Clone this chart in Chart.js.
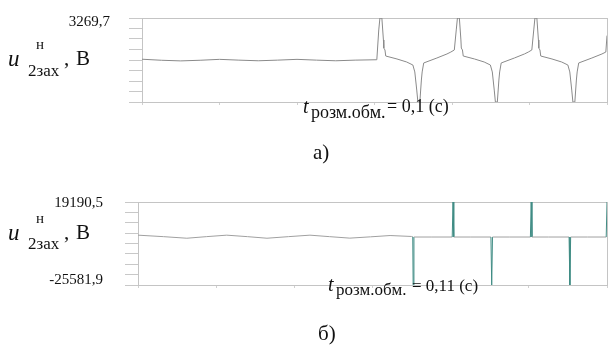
<!DOCTYPE html>
<html>
<head>
<meta charset="utf-8">
<script src="https://cdn.jsdelivr.net/npm/chart.js@4.4.0/dist/chart.umd.min.js"></script>
<style>
    body { margin: 0; background: #fff; }
    #wrap { position: relative; width: 612px; height: 353px; overflow: hidden; font-family: 'Liberation Serif', 'Times New Roman', serif; color: #111; }
    .t { position: absolute; white-space: nowrap; line-height: 1; }
    .box { position: absolute; }
</style>
</head>
<body>
<div id="wrap">
    <div class="box" style="left:100px; top:10px; width:512px; height:100px;"><canvas id="chartA" width="512" height="100"></canvas></div>
    <div class="box" style="left:100px; top:192px; width:512px; height:101px;"><canvas id="chartB" width="512" height="101"></canvas></div>

    <div class="t" style="right:502px; top:14px; font-size:15px;">3269,7</div>
    <div class="t" style="left:8px; top:47px; font-size:23px; font-style:italic;">u</div>
    <div class="t" style="left:36px; top:37px; font-size:15px;">н</div>
    <div class="t" style="left:28px; top:62px; font-size:17px;">2зах</div>
    <div class="t" style="left:64px; top:48px; font-size:21px;">,</div>
    <div class="t" style="left:76px; top:48px; font-size:21px;">В</div>
    <div class="t" style="left:303px; top:96px; font-size:20px; font-style:italic;">t</div>
    <div class="t" style="left:311px; top:103px; font-size:18px;">розм.обм.</div>
    <div class="t" style="left:387px; top:97px; font-size:18px;">= 0,1 (с)</div>
    <div class="t" style="left:313px; top:142px; font-size:21px;">а)</div>

    <div class="t" style="right:509px; top:195px; font-size:15px;">19190,5</div>
    <div class="t" style="right:509px; top:272px; font-size:15px;">-25581,9</div>
    <div class="t" style="left:8px; top:221px; font-size:23px; font-style:italic;">u</div>
    <div class="t" style="left:36px; top:211px; font-size:15px;">н</div>
    <div class="t" style="left:28px; top:235px; font-size:17px;">2зах</div>
    <div class="t" style="left:64px; top:222px; font-size:21px;">,</div>
    <div class="t" style="left:76px; top:222px; font-size:21px;">В</div>
    <div class="t" style="left:328px; top:274px; font-size:20px; font-style:italic;">t</div>
    <div class="t" style="left:336px; top:281px; font-size:17px;">розм.обм.</div>
    <div class="t" style="left:412px; top:277px; font-size:17px;">= 0,11 (с)</div>
    <div class="t" style="left:318px; top:323px; font-size:21px;">б)</div>
</div>
<script>
// x ticks, seconds
const xTicks = [0.04, 0.06, 0.08, 0.10, 0.12, 0.14, 0.16];

// panel a) t = 0,1 s
const yTicksA = [-3269.7, -2452.3, -1634.9, -817.4, 0, 817.4, 1634.9, 2452.3, 3269.7];
const timeA = [
    0.040, 0.045, 0.050, 0.055, 0.060, 0.065, 0.070, 0.075, 0.080, 0.085, 0.090, 0.095, 0.1006,
    0.1011, 0.1014, 0.1019, 0.1023, 0.1024, 0.1027, 0.1029, 0.1058, 0.1083, 0.1099, 0.1104, 0.1109,
    0.1112, 0.1117, 0.1121, 0.1123, 0.1127, 0.1161, 0.1187, 0.1197, 0.1206,
    0.1211, 0.1214, 0.1219, 0.1223, 0.1224, 0.1227, 0.1229, 0.1258, 0.1283, 0.1299, 0.1304, 0.1309,
    0.1312, 0.1317, 0.1321, 0.1323, 0.1327, 0.1361, 0.1387, 0.1397, 0.1406,
    0.1411, 0.1414, 0.1419, 0.1423, 0.1424, 0.1427, 0.1429, 0.1458, 0.1483, 0.1499, 0.1504, 0.1509,
    0.1512, 0.1517, 0.1521, 0.1523, 0.1527, 0.1561, 0.1587, 0.1597, 0.1600
];
const voltA = [
    60, -20, -70, -20, 50, -10, -60, -10, 50, -10, -60, -10, 20,
    2340, 3270, 3270, 1560, 930, 780, 310, 80, -155, -390, -930, -2340,
    -3270, -3270, -1560, -930, -230, 155, 470, 620, 780,
    2340, 3270, 3270, 1560, 930, 780, 310, 80, -155, -390, -930, -2340,
    -3270, -3270, -1560, -930, -230, 155, 470, 620, 780,
    2340, 3270, 3270, 1560, 930, 780, 310, 80, -155, -390, -930, -2340,
    -3270, -3270, -1560, -930, -230, 155, 470, 620, 1900
];

// panel б) t = 0,11 s
const yTicksB = [-25581.9, -19985.3, -14388.8, -8792.2, -3195.7, 2400.9, 7997.4, 13594.0, 19190.5];
const timeB = [
    0.040, 0.0465, 0.0525, 0.0575, 0.0627, 0.068, 0.073, 0.0785, 0.084, 0.089, 0.0942, 0.0995, 0.1045, 0.1100,
    0.1103, 0.1104, 0.1106, 0.1150, 0.1204, 0.1206, 0.1208, 0.1250,
    0.1303, 0.1305, 0.1307, 0.1350, 0.1404, 0.1406, 0.1408, 0.1450,
    0.1503, 0.1505, 0.1507, 0.1550, 0.1598, 0.1600
];
const voltB = [
    1300, 500, -350, 500, 1300, 500, -350, 500, 1300, 500, -300, 400, 1100, 600,
    400, -25581.9, 300, 300, 300, 19190.5, 300, 300,
    300, -25581.9, 300, 300, 300, 19190.5, 300, 300,
    300, -25581.9, 300, 300, 300, 19190.5
];

const frameColor = '#c4c4c4';
const spikeColor = '#3f8c84';

function frameAxis(position) {
    return {
        type: 'linear',
        position: position,
        display: true,
        grid: { display: false },
        ticks: { display: false },
        border: { display: true, color: frameColor, width: 1 },
        afterFit: (scale) => {
            if (position === 'top') scale.height = 0;
            else scale.width = 0;
        },
    };
}

function createPanel(canvas, times, volts, yTicks, yWidth, padTop, segColor) {
    const points = times.map((t, i) => ({ x: t, y: volts[i] }));
    return new Chart(canvas, {
        type: 'line',
        data: {
            datasets: [{
                data: points,
                borderColor: '#8a8a8a',
                borderWidth: 1,
                pointRadius: 0,
                fill: false,
                tension: 0,
                segment: segColor ? {
                    borderColor: (ctx) => (Math.abs(ctx.p0.parsed.y) > 5000 || Math.abs(ctx.p1.parsed.y) > 5000) ? spikeColor : '#a0a0a0',
                } : {},
            }],
        },
        options: {
            responsive: false,
            animation: false,
            layout: { padding: { top: padTop, right: 5, left: 0, bottom: 0 } },
            plugins: { legend: { display: false }, tooltip: { enabled: false } },
            scales: {
                x: {
                    type: 'linear',
                    min: xTicks[0],
                    max: xTicks[xTicks.length - 1],
                    afterBuildTicks: (scale) => { scale.ticks = xTicks.map(v => ({ value: v })); },
                    grid: { drawOnChartArea: false, drawTicks: true, tickLength: 3, color: '#d0d0d0' },
                    ticks: { display: false },
                    border: { display: true, color: frameColor },
                    afterFit: (scale) => { scale.height = 8; },
                },
                y: {
                    type: 'linear',
                    min: yTicks[0],
                    max: yTicks[yTicks.length - 1],
                    afterBuildTicks: (scale) => { scale.ticks = yTicks.map(v => ({ value: v })); },
                    grid: { drawOnChartArea: false, drawTicks: true, tickLength: 13, color: '#c8c8c8' },
                    ticks: { display: false },
                    border: { display: true, color: frameColor },
                    afterFit: (scale) => { scale.width = yWidth; },
                },
                xTop: frameAxis('top'),
                yRight: frameAxis('right'),
            },
        },
    });
}

createPanel(document.getElementById('chartA'), timeA, voltA, yTicksA, 42, 8, false);
createPanel(document.getElementById('chartB'), timeB, voltB, yTicksB, 38, 10, true);
</script>
</body>
</html>
